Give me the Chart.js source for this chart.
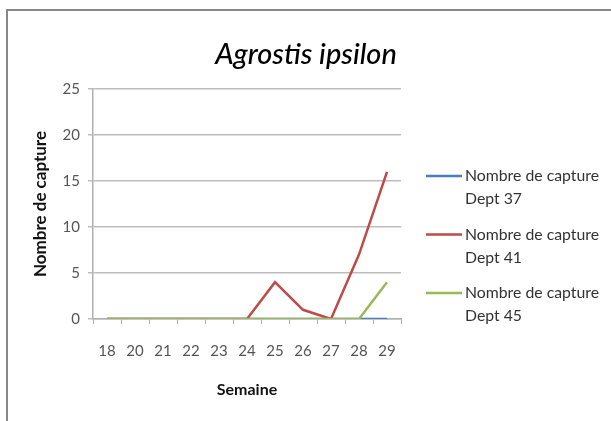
<!DOCTYPE html>
<html>
<head>
<meta charset="utf-8">
<script src="https://cdn.jsdelivr.net/npm/chart.js@4.4.0/dist/chart.umd.min.js"></script>
<style>
  html, body { margin: 0; padding: 0; background: #fff; }
  #wrap { position: relative; width: 611px; height: 421px; overflow: hidden; }
  #frame { position: absolute; left: 6px; top: 9px; width: 700px; height: 500px;
           border-left: 2px solid #888; border-top: 2px solid #888; }
  canvas { position: absolute; left: 0; top: 0; }
</style>
</head>
<body>
<div id="wrap">
  <div id="frame"></div>
  <canvas id="chartCanvas" width="611" height="421"></canvas>
</div>
<script>
var weeks = ["18", "20", "21", "22", "23", "24", "25", "26", "27", "28", "29"];
var dept37 = [0, 0, 0, 0, 0, 0, 0, 0, 0, 0, 0];
var dept41 = [0, 0, 0, 0, 0, 0, 4, 1, 0, 7, 16];
var dept45 = [0, 0, 0, 0, 0, 0, 0, 0, 0, 0, 4];
var seriesNames = [["Nombre de capture", "Dept 37"], ["Nombre de capture", "Dept 41"], ["Nombre de capture", "Dept 45"]];
var seriesColors = ["#4a7ebb", "#be4b48", "#98b954"];

var FONT = "Lato, 'Liberation Sans', sans-serif";

// title + legend drawn by hand (legend labels are on two lines)
var extras = {
  id: "extras",
  afterDraw: function (chart) {
    var ctx = chart.ctx;
    ctx.save();
    ctx.fillStyle = "#000";
    ctx.font = "italic 500 29px " + FONT;
    ctx.textAlign = "center";
    ctx.textBaseline = "middle";
    ctx.fillText("Agrostis ipsilon", 306, 55);

    ctx.font = "15.8px " + FONT;
    ctx.textAlign = "left";
    ctx.fillStyle = "#333";
    for (var i = 0; i < seriesNames.length; i++) {
      var y = 176 + i * 58.5;
      ctx.strokeStyle = seriesColors[i];
      ctx.lineWidth = 2.5;
      ctx.beginPath();
      ctx.moveTo(426, y);
      ctx.lineTo(462, y);
      ctx.stroke();
      ctx.fillText(seriesNames[i][0], 465, y);
      ctx.fillText(seriesNames[i][1], 465, y + 23);
    }
    ctx.restore();
  },
};

var ctx = document.getElementById("chartCanvas").getContext("2d");
var vehicleChart = new Chart(ctx, {
  type: "line",
  data: {
    labels: weeks,
    datasets: [
      { label: "Dept 37", data: dept37, borderColor: seriesColors[0], order: 2 },
      { label: "Dept 41", data: dept41, borderColor: seriesColors[1], order: 1 },
      { label: "Dept 45", data: dept45, borderColor: seriesColors[2], order: 0 },
    ],
  },
  options: {
    responsive: false,
    animation: false,
    devicePixelRatio: 1,
    layout: { padding: { left: 0, top: 89, right: 210, bottom: 0 } },
    elements: {
      point: { radius: 0 },
      line: { borderWidth: 2.5, tension: 0, borderCapStyle: "butt" },
    },
    plugins: {
      legend: { display: false },
      title: { display: false },
      tooltip: { enabled: false },
    },
    scales: {
      x: {
        offset: true,
        grid: { offset: true, display: true, drawOnChartArea: false, tickLength: 5, color: "#b0b0b0", lineWidth: 1 },
        border: { color: "#b0b0b0", width: 1.5 },
        ticks: { color: "#555", font: { family: FONT, size: 15 }, padding: 18, maxRotation: 0, autoSkip: false },
        title: { display: true, text: "Semaine", color: "#111", font: { family: FONT, size: 16, weight: "bold" }, padding: { top: 0, bottom: 22 } },
        afterFit: function (scale) { scale.height = 102; },
      },
      y: {
        min: 0,
        max: 25,
        grid: { color: "#bdbdbd", lineWidth: 1.5, tickLength: 5 },
        border: { color: "#b0b0b0", width: 1.5 },
        ticks: { stepSize: 5, color: "#555", font: { family: FONT, size: 15 }, padding: 8 },
        title: { display: true, text: "Nombre de capture", color: "#111", font: { family: FONT, size: 17, weight: "bold" }, padding: { top: 30, bottom: 0 } },
        afterFit: function (scale) { scale.width = 93; },
      },
    },
  },
  plugins: [extras],
});
</script>
</body>
</html>
